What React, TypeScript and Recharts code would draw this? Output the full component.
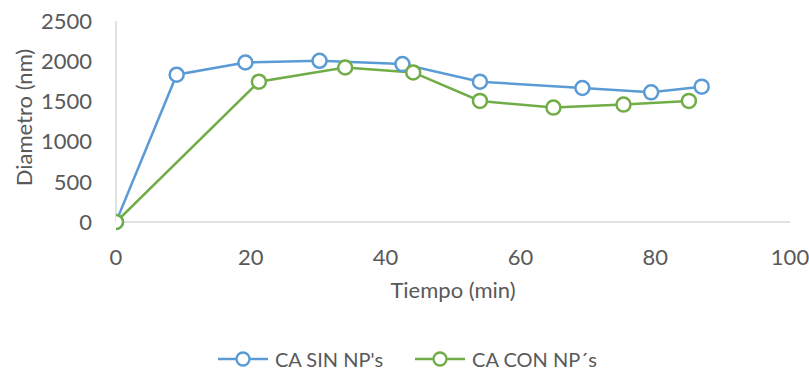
import React from "react";
import { LineChart, Line, XAxis, YAxis } from "recharts";

const sinTimes = [0, 9.0, 19.2, 30.2, 42.5, 54.0, 69.2, 79.4, 86.9];
const sinValues = [0, 1832, 1984, 2005, 1964, 1745, 1667, 1613, 1683];
const conTimes = [0, 21.2, 34.0, 44.1, 54.0, 64.9, 75.3, 85.0];
const conValues = [0, 1745, 1922, 1860, 1506, 1423, 1460, 1506];
const xTicks = [0, 20, 40, 60, 80, 100];
const yTicks = [0, 500, 1000, 1500, 2000, 2500];
const seriesNames = ["CA SIN NP's", "CA CON NP´s"];

const BLUE = "#5B9BD5";
const GREEN = "#70AD47";
const TEXT = "#595959";
const FONT = "Lato, 'Open Sans', sans-serif";

const sinData = sinTimes.map((x, i) => ({ x, y: sinValues[i] }));
const conData = conTimes.map((x, i) => ({ x, y: conValues[i] }));

const LegendBlock = () => {
  const items = [
    { name: seriesNames[0], color: BLUE },
    { name: seriesNames[1], color: GREEN },
  ];
  return (
    <div
      style={{
        position: "absolute",
        top: 349,
        left: 218,
        display: "flex",
        alignItems: "center",
        gap: 32,
        fontFamily: FONT,
        fontSize: 20,
        color: TEXT,
        lineHeight: "20px",
        height: 20,
      }}
    >
      {items.map((it) => (
        <div key={it.name} style={{ display: "flex", alignItems: "center" }}>
          <svg width={50} height={20} style={{ marginRight: 7 }}>
            <line x1={0} y1={10} x2={50} y2={10} stroke={it.color} strokeWidth={2.5} />
            <circle cx={25} cy={10} r={6.5} fill="#fff" stroke={it.color} strokeWidth={2.3} />
          </svg>
          <span>{it.name}</span>
        </div>
      ))}
    </div>
  );
};

const YTitle = (props: any) => {
  const vb = props.viewBox || { x: 0, y: 21, width: 116, height: 201 };
  const cy = vb.y + vb.height / 2 - 4;
  return (
    <text
      x={23}
      y={cy}
      transform={`rotate(-90, 23, ${cy})`}
      textAnchor="middle"
      dominantBaseline="central"
      fill={TEXT}
      fontSize={22}
      fontFamily={FONT}
    >
      Diametro (nm)
    </text>
  );
};

export default function App() {
  return (
    <div style={{ position: "absolute", left: 0, top: 0, width: 809, height: 370, background: "#fff" }}>
      <LineChart width={809} height={370} margin={{ top: 21, right: 19, bottom: 68, left: 0 }}>
        <XAxis
          type="number"
          dataKey="x"
          domain={[0, 100]}
          ticks={xTicks}
          allowDataOverflow
          axisLine={{ stroke: "#D9D9D9", strokeWidth: 1.5 }}
          tickLine={false}
          tickMargin={21}
          height={80}
          tick={{ fill: TEXT, fontSize: 22, fontFamily: FONT }}
          label={{ value: "Tiempo (min)", position: "insideTop", offset: 60, fill: TEXT, fontSize: 22, fontFamily: FONT }}
        />
        <YAxis
          type="number"
          dataKey="y"
          domain={[0, 2500]}
          ticks={yTicks}
          width={116}
          axisLine={{ stroke: "#D9D9D9", strokeWidth: 1.5 }}
          tickLine={false}
          tickMargin={18}
          tick={{ fill: TEXT, fontSize: 22, fontFamily: FONT }}
          label={<YTitle />}
        />
        <Line
          data={sinData}
          dataKey="y"
          name={seriesNames[0]}
          stroke={BLUE}
          strokeWidth={2.5}
          dot={{ r: 7, fill: "#fff", stroke: BLUE, strokeWidth: 2.5 }}
          isAnimationActive={false}
        />
        <Line
          data={conData}
          dataKey="y"
          name={seriesNames[1]}
          stroke={GREEN}
          strokeWidth={2.5}
          dot={{ r: 7, fill: "#fff", stroke: GREEN, strokeWidth: 2.5 }}
          isAnimationActive={false}
        />
      </LineChart>
      <LegendBlock />
    </div>
  );
}
